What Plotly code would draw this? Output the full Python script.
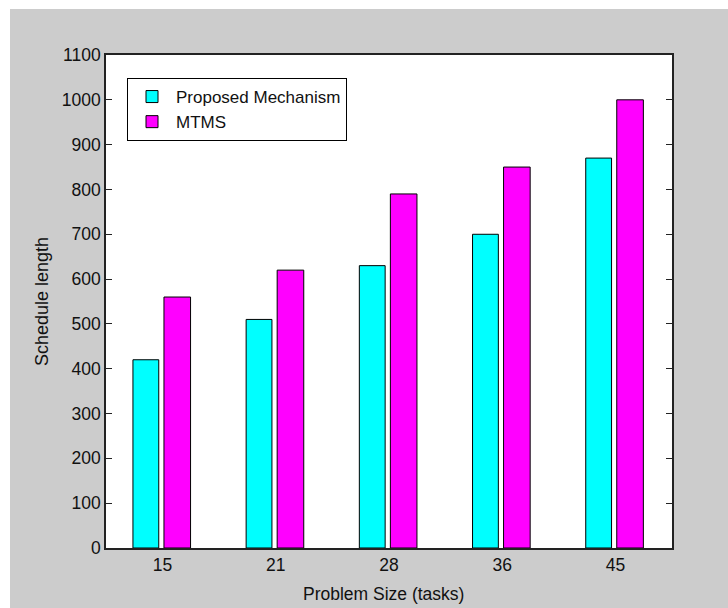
import plotly.graph_objects as go

categories = ["15", "21", "28", "36", "45"]
proposed = [420, 510, 630, 700, 870]
mtms = [560, 620, 790, 850, 1000]
y_ticks = list(range(0, 1101, 100))

L, R, T, B = 106, 56, 55, 60
W, H = 728, 608
pw, ph = W - L - R, H - T - B

fig = go.Figure()
fig.add_trace(go.Bar(x=categories, y=proposed, name="Proposed Mechanism",
                     offset=-0.262, width=0.228,
                     marker=dict(color="#00ffff", line=dict(color="#000000", width=1))))
fig.add_trace(go.Bar(x=categories, y=mtms, name="MTMS",
                     offset=0.012, width=0.235,
                     marker=dict(color="#ff00ff", line=dict(color="#000000", width=1))))

fam = "Arial, Liberation Sans, sans-serif"
tickfont = dict(family=fam, size=17.5, color="#111111")

fig.update_layout(
    width=W, height=H,
    margin=dict(l=L, r=R, t=T, b=B, pad=0),
    paper_bgcolor="#cccccc",
    plot_bgcolor="#ffffff",
    barmode="group",
    font=dict(family=fam, size=15, color="#111111"),
    showlegend=True,
    legend=dict(x=(127 - L) / pw, y=(H - B - 78) / ph, xanchor="left", yanchor="top",
                bgcolor="#ffffff", bordercolor="#000000", borderwidth=1,
                font=dict(family=fam, size=17, color="#111111"),
                itemwidth=38, tracegroupgap=0),
    xaxis=dict(type="category", range=[-0.5, 4.5], showline=True, linecolor="#222222",
               linewidth=1.5, mirror=True, ticks="", showgrid=False, zeroline=False,
               automargin=False, tickfont=tickfont),
    yaxis=dict(range=[0, 1100], tickvals=y_ticks, showline=True, linecolor="#222222",
               linewidth=1.5, mirror="ticks", ticks="inside", ticklen=6, tickcolor="#222222",
               showgrid=False, zeroline=False, automargin=False,
               title=dict(text="Schedule length", standoff=9,
                          font=dict(family=fam, size=18, color="#111111")),
               tickfont=tickfont),
    annotations=[
        dict(text="Problem Size (tasks)", xref="paper", yref="paper",
             x=(383 - L) / pw, y=-(594 - (H - B)) / ph, xanchor="center", yanchor="middle",
             showarrow=False, font=dict(family=fam, size=17.5, color="#111111")),
    ],
    shapes=[
        dict(type="rect", xref="paper", yref="paper", x0=-0.3, x1=(10 - L) / pw,
             y0=-0.2, y1=1.2, fillcolor="#ffffff", line=dict(width=0), layer="below"),
        dict(type="rect", xref="paper", yref="paper", x0=-0.3, x1=1.2,
             y0=(H - B - 9) / ph, y1=1.2, fillcolor="#ffffff", line=dict(width=0), layer="below"),
    ],
)

fig.write_html("out.html", config={"displayModeBar": False},
               post_script="document.body.style.margin='0';document.body.style.overflow='hidden';")
